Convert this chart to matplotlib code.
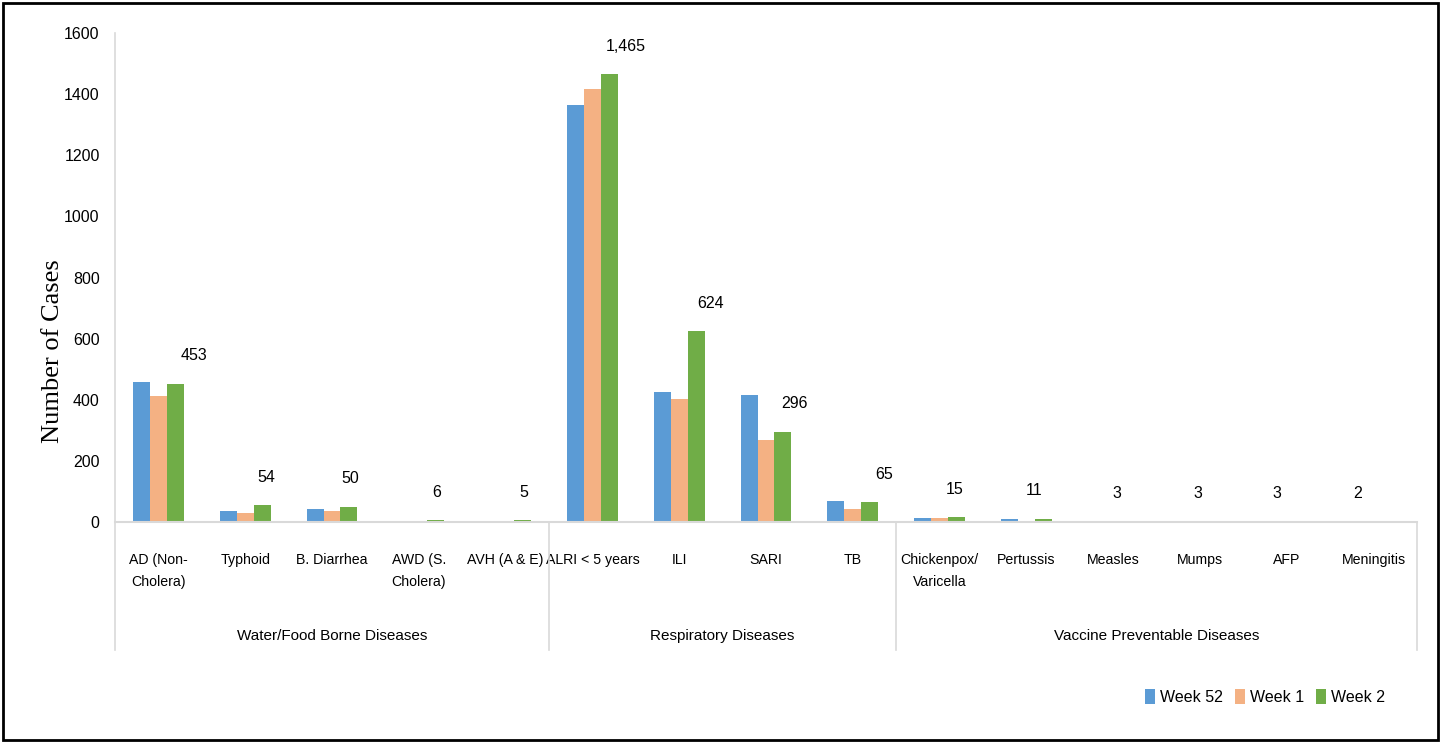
import numpy as np
import matplotlib.pyplot as plt
from matplotlib.patches import Rectangle
from matplotlib.transforms import blended_transform_factory

diseases = ["AD (Non-\nCholera)", "Typhoid", "B. Diarrhea", "AWD (S.\nCholera)", "AVH (A & E)",
            "ALRI < 5 years", "ILI", "SARI", "TB",
            "Chickenpox/\nVaricella", "Pertussis", "Measles", "Mumps", "AFP", "Meningitis"]
groups = ["Water/Food Borne Diseases", "Respiratory Diseases", "Vaccine Preventable Diseases"]
group_sizes = [5, 4, 6]

week52 = [459, 36, 43, 4, 3, 1364, 424, 417, 70, 12, 10, 2, 3, 2, 1]
week1 = [411, 29, 36, 3, 2, 1418, 403, 267, 43, 13, 2, 2, 2, 3, 2]
week2 = [453, 54, 50, 6, 5, 1465, 624, 296, 65, 15, 11, 3, 3, 3, 2]
series_names = ["Week 52", "Week 1", "Week 2"]
colors = ["#5B9BD5", "#F4B183", "#70AD47"]

# small horizontal nudges (pixels) for the week 2 value labels
label_dx = [19, 4, 1, 1, 1, 16, 14, 12, 14, -2, -9, -13, -19, -27, -33]

font = "Liberation Sans"

fig = plt.figure(figsize=(14.44, 7.43), dpi=100)
ax = fig.add_axes([115 / 1444, 221 / 743, 1302 / 1444, 489 / 743])

x = np.arange(len(diseases))
w = 0.195
for i, (vals, name, c) in enumerate(zip([week52, week1, week2], series_names, colors)):
    ax.bar(x + (i - 1) * w, vals, width=w, color=c, label=name, edgecolor="none")

for xi, v, dx in zip(x, week2, label_dx):
    ax.annotate(f"{v:,}", (xi + w, v), xytext=(dx * 0.72, 20), textcoords="offset points",
                ha="center", va="center", fontsize=11.5, family=font)

ax.set_xlim(-0.5, len(diseases) - 0.5)
ax.set_ylim(0, 1600)
ax.set_yticks(range(0, 1601, 200))
ax.set_yticklabels([str(t) for t in range(0, 1601, 200)], family=font, fontsize=11.5)
ax.set_xticks(x)
ax.set_xticklabels(diseases, family=font, fontsize=10.2, linespacing=1.8, va="top")
ax.tick_params(axis="both", length=0)
ax.tick_params(axis="x", pad=22)
ax.tick_params(axis="y", pad=11)

for side in ["top", "right"]:
    ax.spines[side].set_visible(False)
ax.spines["left"].set_color("#D9D9D9")
ax.spines["bottom"].set_color("#D9D9D9")
ax.spines["left"].set_linewidth(1.2)
ax.spines["bottom"].set_linewidth(1.5)

ax.set_ylabel("Number of Cases", family="Liberation Serif", fontsize=19)
ax.yaxis.set_label_coords(-0.039, 0.35)

trans = blended_transform_factory(ax.transData, ax.transAxes)
bottom = -(650 - 522) / 489
edges = np.concatenate([[0], np.cumsum(group_sizes)]) - 0.5
for e in edges:
    ax.plot([e, e], [0, bottom], color="#D9D9D9", lw=1.2, transform=trans, clip_on=False)
for g, a, b in zip(groups, edges[:-1], edges[1:]):
    ax.text((a + b) / 2, -(636 - 522) / 489, g, transform=trans, ha="center", va="center",
            family=font, fontsize=11)

fig.legend(loc="center", bbox_to_anchor=(1265 / 1444, 1 - 697 / 743), ncol=3, frameon=False,
           prop={"family": font, "size": 11.5}, handlelength=0.6, handleheight=1.1,
           handletextpad=0.3, columnspacing=0.8)

fig.patches.append(Rectangle((0.002, 0.004), 0.994, 0.992, transform=fig.transFigure,
                             fill=False, edgecolor="black", lw=2))

fig.savefig("out.png", dpi=100)
